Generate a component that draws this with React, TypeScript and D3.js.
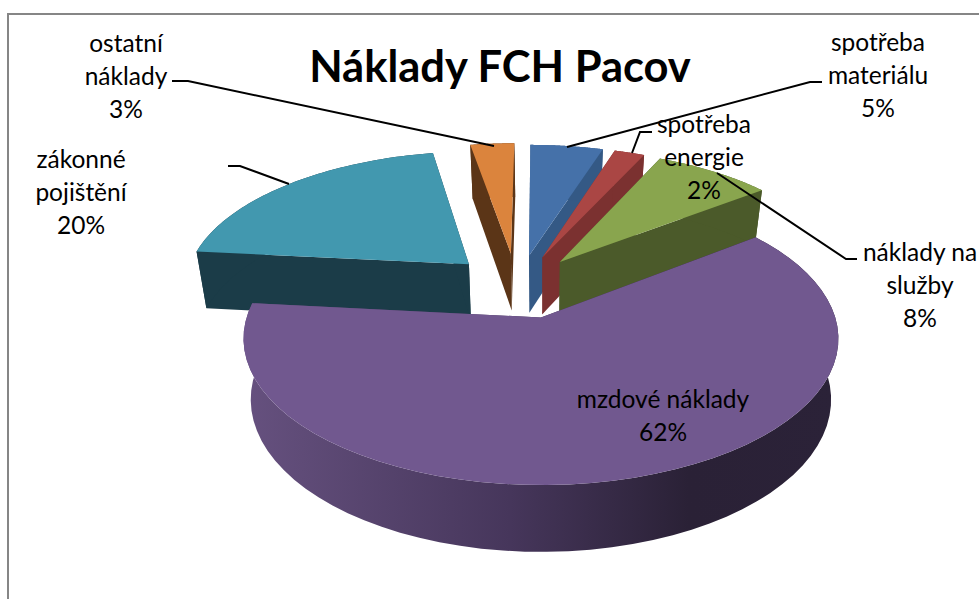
import React from "react";
import * as d3 from "d3";

const title = "Náklady FCH Pacov";
const categories = ["spotřeba materiálu", "spotřeba energie", "náklady na služby", "mzdové náklady", "zákonné pojištění", "ostatní náklady"];
const shares = [4.8, 2, 7.8, 62, 20.5, 2.9];
const topColors = ["#4571a9", "#aa4644", "#89a54e", "#71588f", "#4298af", "#db843d"];
const wallColors = ["#345985", "#7b3130", "#4b5a2a", "url(#purpleWall)", "#1b3c48", "#5b3517"];
const drawOrder = [5, 4, 0, 1, 2, 3];

const labelLines = [
  ["spotřeba", "materiálu", "5%"],
  ["spotřeba", "energie", "2%"],
  ["náklady na", "služby", "8%"],
  ["mzdové náklady", "62%"],
  ["zákonné", "pojištění", "20%"],
  ["ostatní", "náklady", "3%"],
];
const labelPos: [number, number][] = [[878, 51], [704, 133], [920, 261], [663, 408], [81, 168], [126, 52]];
const leaders: [number, number][][] = [
  [[567, 147], [810, 82], [822, 82]],
  [[632, 153], [640, 132], [652, 132]],
  [[717, 173], [846, 259], [857, 259]],
  [],
  [[289, 184], [240, 166], [228, 166]],
  [[494, 146], [188, 81], [172, 81]],
];

// plane -> screen, a perspective view of the tilted pie
const top3d = { k: 0.145, cy: 318, a: 294.5, b: 143.5 };
const bottom3d = { k: 0.152, cy: 377, a: 287, b: 149 };
const origin = { u: -0.075, v: 0.23 };
const explode = [0.235, 0.235, 0.235, 0.235, 0.245, 0.25];
const shiftU = [0, 0, 0, 0.014, 0, -0.008];

const project = (u: number, v: number, p: typeof top3d): [number, number] => {
  const w = 1 + p.k * v;
  return [540 + (p.a * u) / w, p.cy - (p.b * v) / w];
};

const slices = d3.pie<number>().sort(null).value((d) => d)(shares);

const App = () => {
  const line = d3.line();
  const paths = slices.map((s, idx) => {
    const mid = (s.startAngle + s.endAngle) / 2;
    const ou = origin.u + shiftU[idx] + explode[idx] * Math.sin(mid);
    const ov = origin.v + explode[idx] * Math.cos(mid);
    const angles = d3.range(0, 61).map((i) => s.startAngle + ((s.endAngle - s.startAngle) * i) / 60);
    const rim = angles.map((a) => [ou + Math.sin(a), ov + Math.cos(a)]);
    const topRim = rim.map(([u, v]) => project(u, v, top3d));
    const botRim = rim.map(([u, v]) => project(u, v, bottom3d));
    const topApex = project(ou, ov, top3d);
    const botApex = project(ou, ov, bottom3d);
    const n = topRim.length - 1;
    return {
      top: line([topApex, ...topRim])! + "Z",
      startWall: line([topApex, topRim[0], botRim[0], botApex])! + "Z",
      endWall: line([topApex, topRim[n], botRim[n], botApex])! + "Z",
      rimWall: line([...topRim, ...[...botRim].reverse()])! + "Z",
    };
  });

  return (
    <svg width={979} height={599} style={{ position: "absolute", left: 0, top: 0, background: "#fff" }}>
      <defs>
        <linearGradient id="purpleWall" gradientUnits="userSpaceOnUse" x1={243} x2={837} y1={0} y2={0}>
          <stop offset="0" stopColor="#66517f" />
          <stop offset="0.45" stopColor="#46365b" />
          <stop offset="0.75" stopColor="#2a2136" />
          <stop offset="1" stopColor="#2b2238" />
        </linearGradient>
      </defs>
      <path d="M8,599V14H979" fill="none" stroke="#868686" strokeWidth={2} />
      {drawOrder.map((i) => (
        <g key={categories[i]}>
          <path d={paths[i].startWall} fill={wallColors[i]} />
          <path d={paths[i].endWall} fill={wallColors[i]} />
          <path d={paths[i].rimWall} fill={wallColors[i]} />
          <path d={paths[i].top} fill={topColors[i]} />
        </g>
      ))}
      {leaders.map((pts, i) =>
        pts.length ? <path key={i} d={line(pts)!} fill="none" stroke="#000" strokeWidth={2} /> : null
      )}
      <text x={500} y={82} textAnchor="middle" fontFamily="Lato" fontWeight={700} fontSize={43.5} fill="#000">
        {title}
      </text>
      {labelLines.map((lines, i) => (
        <g key={i} fontFamily="Lato" fontSize={24.5} fill="#000" textAnchor="middle">
          {lines.map((t, j) => (
            <text key={j} x={labelPos[i][0]} y={labelPos[i][1] + j * 33}>
              {t}
            </text>
          ))}
        </g>
      ))}
    </svg>
  );
};

export default App;
